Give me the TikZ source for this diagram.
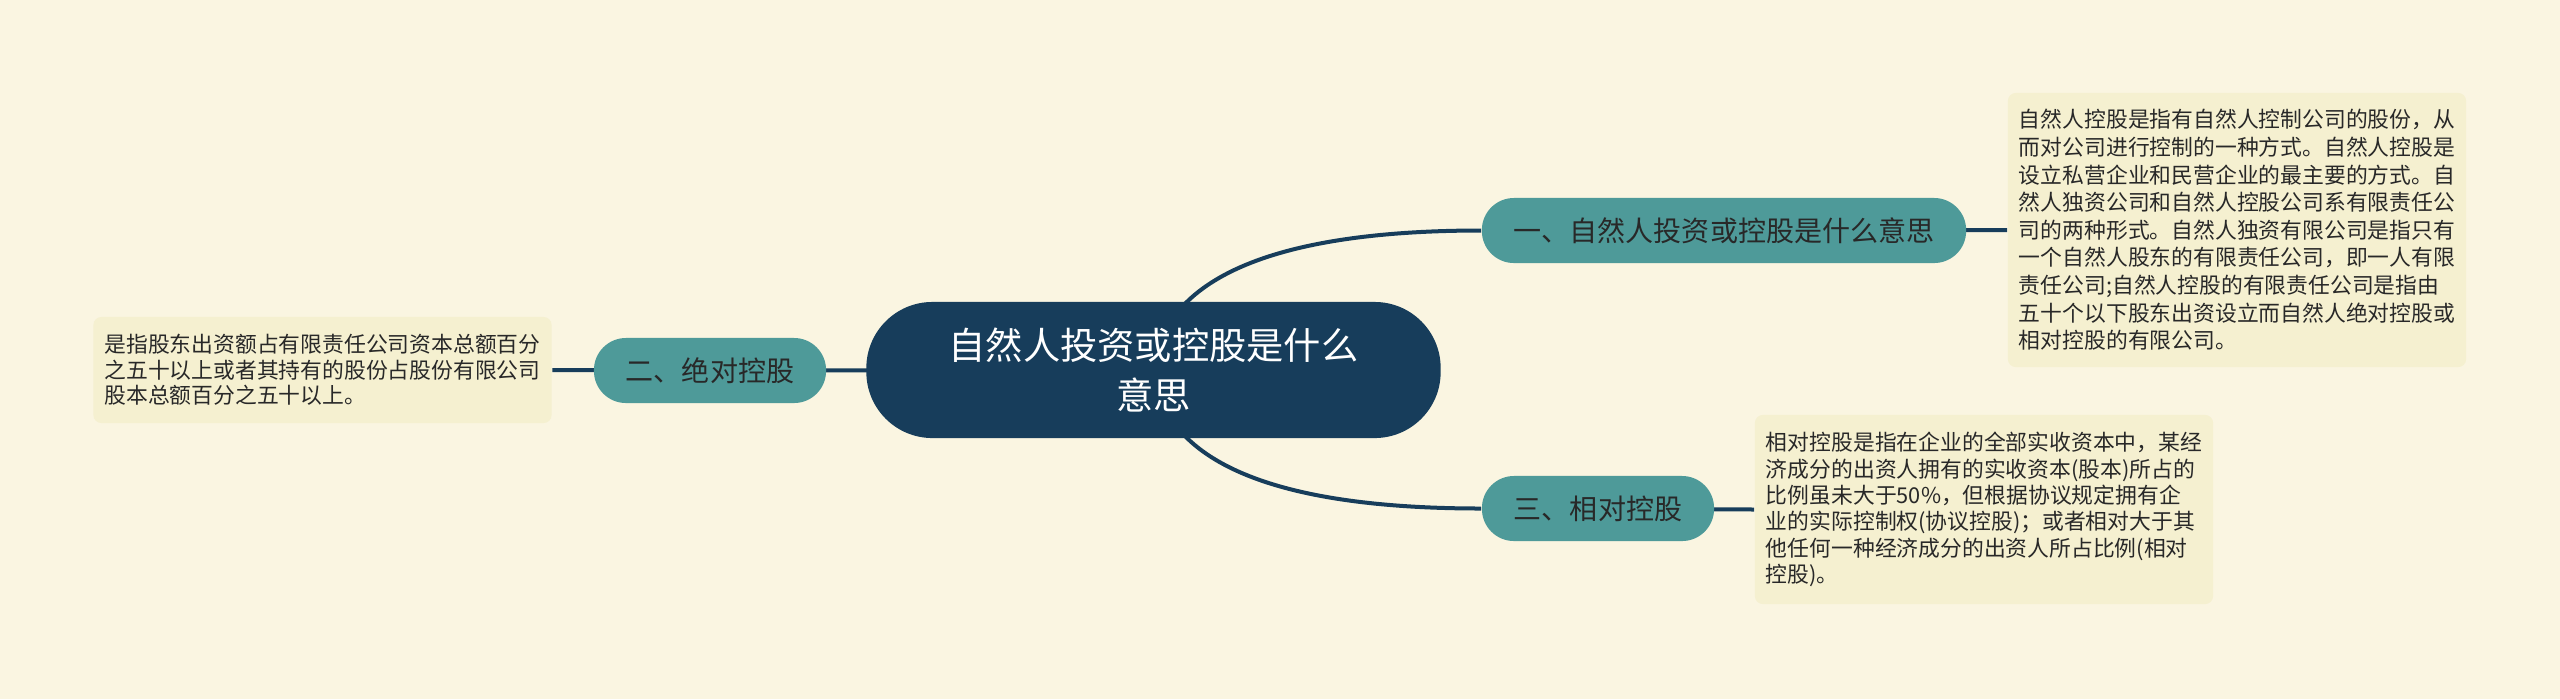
\documentclass[tikz,border=0pt]{standalone}
\usepackage{fontspec}
\setmainfont{Noto Sans CJK SC}
\definecolor{bgc}{RGB}{250,245,225}
\definecolor{boxc}{RGB}{245,240,208}
\definecolor{navy}{RGB}{23,61,91}
\definecolor{teal}{RGB}{78,154,153}
\definecolor{txt}{RGB}{40,40,40}
\pgfdeclarelayer{bg}
\pgfdeclarelayer{lines}
\pgfsetlayers{bg,lines,main}
\tikzset{
  central/.style={fill=navy, text=white, rounded corners=0.66cm, inner sep=0pt,
    minimum width=5.74cm, minimum height=1.36cm, align=center,
    font=\fontsize{10.6pt}{14.2pt}\selectfont},
  branch/.style={fill=teal, text=txt, rounded corners=0.32cm, inner sep=0pt,
    minimum height=0.65cm, align=center, font=\fontsize{7.97pt}{9.5pt}\selectfont},
  note/.style={fill=boxc, text=txt, rounded corners=0.08cm, inner sep=0pt,
    minimum width=4.58cm, align=left},
  conn/.style={draw=navy, line width=0.04cm}
}
\begin{document}
\begin{tikzpicture}[x=0.01cm,y=-0.01cm]
\useasboundingbox (0,0) rectangle (2560,699);
\begin{pgfonlayer}{bg}
\fill[bgc] (0,0) rectangle (2560,699);
\end{pgfonlayer}
\node[central] (c) at (1153.5,370) {自然人投资或控股是什么\\意思};
\node[branch, minimum width=4.84cm] (n1) at (1724,230.5) {一、自然人投资或控股是什么意思};
\node[branch, minimum width=2.32cm] (n2) at (710,370.5) {二、绝对控股};
\node[branch, minimum width=2.32cm] (n3) at (1598,508.5) {三、相对控股};
\node[note, minimum height=2.74cm, font=\fontsize{6.2pt}{7.85pt}\selectfont] (b1) at (2237,230) {自然人控股是指有自然人控制公司的股份，从\\而对公司进行控制的一种方式。自然人控股是\\设立私营企业和民营企业的最主要的方式。自\\然人独资公司和自然人控股公司系有限责任公\\司的两种形式。自然人独资有限公司是指只有\\一个自然人股东的有限责任公司，即一人有限\\责任公司;自然人控股的有限责任公司是指由\\五十个以下股东出资设立而自然人绝对控股或\\相对控股的有限公司。};
\node[note, minimum height=1.89cm, font=\fontsize{6.2pt}{7.5pt}\selectfont] (b3) at (1984,509.5) {相对控股是指在企业的全部实收资本中，某经\\济成分的出资人拥有的实收资本(股本)所占的\\比例虽未大于50\%，但根据协议规定拥有企\\业的实际控制权(协议控股)；或者相对大于其\\他任何一种经济成分的出资人所占比例(相对\\控股)。};
\node[note, minimum height=1.06cm, font=\fontsize{6.2pt}{7.2pt}\selectfont] (b2) at (322.5,370) {是指股东出资额占有限责任公司资本总额百分\\之五十以上或者其持有的股份占股份有限公司\\股本总额百分之五十以上。};
\begin{pgfonlayer}{lines}
\draw[conn] (c.center) .. controls +(12,-110) and +(-162,0) .. (n1.west);
\draw[conn] (c.center) .. controls +(12,110) and +(-162,0) .. (n3.west);
\draw[conn] (c.center) -- (n2.center);
\draw[conn] (n2.center) -- (b2.east);
\draw[conn] (n1.center) -- (b1.west);
\draw[conn] (n3.center) -- (b3.west);
\end{pgfonlayer}
\end{tikzpicture}
\end{document}
